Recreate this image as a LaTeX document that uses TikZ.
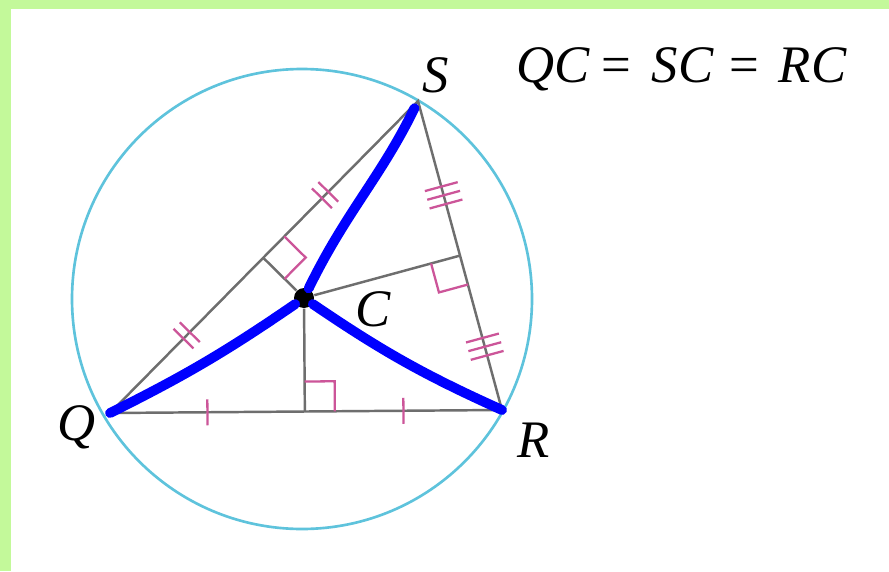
\documentclass[tikz,border=0pt]{standalone}
\usepackage{fontspec}
\setmainfont{Liberation Serif}
\usetikzlibrary{calc,positioning}
\definecolor{FRAME}{HTML}{C3F99A}
\definecolor{RING}{HTML}{5EC3DC}
\definecolor{SIDE}{HTML}{6E6E6E}
\definecolor{MARK}{HTML}{CC5599}
\tikzset{
    Side/.style={draw=SIDE,line width=0.7pt},
    Mark/.style={draw=MARK,line width=0.65pt},
    Path/.style={draw=blue,line width=2.8pt,line cap=round},
    Lbl/.style={font=\fontsize{15}{17}\selectfont\itshape,inner sep=0pt},
    Dot/.style={circle,fill=black,inner sep=0pt,minimum size=0.2cm},
}
\def\Ticks[n #1 pos #2 len #3]#4#5{
    \foreach \k [evaluate=\k as \dd using (\k-(#1+1)/2)*0.09] in {1,...,#1}{
        \coordinate (tk) at ($($(#4)!#2!(#5)$)!\dd cm!(#5)$);
        \draw[Mark] ($(tk)!#3!90:(#5)$) -- ($(tk)!#3!-90:(#5)$);
    }
}
\def\RA#1#2#3{ % foot, along side, toward C
    \draw[Mark] ($(#1)!0.3cm!(#2)$)
        -- ($($(#1)!0.3cm!(#2)$)+($(#1)!0.3cm!(#3)$)-(#1)$)
        -- ($(#1)!0.3cm!(#3)$);
}
\begin{document}
\begin{tikzpicture}
    \useasboundingbox (0,0) rectangle (8.89,5.71);
    \fill[FRAME] (0,0) rectangle (8.89,5.71);
    \fill[white] (0.11,0) rectangle (8.89,5.62);

    \coordinate (Q) at (1.10,1.58);
    \coordinate (R) at (5.02,1.61);
    \coordinate (S) at (4.18,4.70);
    \node[Dot] (C) at (3.04,2.73) {};
    \coordinate (FQR) at ($(Q)!(C)!(R)$);
    \coordinate (FQS) at ($(Q)!(C)!(S)$);
    \coordinate (FRS) at ($(R)!(C)!(S)$);

    \draw[RING,line width=0.75pt] (3.02,2.72) circle (2.30);
    \draw[Side] (Q) -- (R) -- (S) -- cycle;
    \foreach \f in {FQR,FQS,FRS}{\draw[Side] (C) -- (\f);}

    \RA{FQR}{R}{C}
    \RA{FQS}{S}{C}
    \RA{FRS}{R}{C}
    \Ticks[n 1 pos 0.5 len 0.13cm]{Q}{FQR}
    \Ticks[n 1 pos 0.5 len 0.13cm]{FQR}{R}
    \Ticks[n 2 pos 0.5 len 0.14cm]{Q}{FQS}
    \Ticks[n 2 pos 0.4 len 0.14cm]{FQS}{S}
    \Ticks[n 3 pos 0.39 len 0.17cm]{FRS}{S}
    \Ticks[n 3 pos 0.59 len 0.17cm]{FRS}{R}

    \draw[Path,shorten >=0.08cm] (C) to[out=64,in=-116] (S);
    \draw[Path] (C) to[bend left=4] (Q);
    \draw[Path] (C) to[bend right=5] (R);

    \node[Lbl] (LS) at (4.36,4.96) {S};
    \node[Lbl] (LQ) at (0.77,1.44) {Q};
    \node[Lbl] (LR) at (5.34,1.31) {R};
    \node[Lbl] (LC) at (3.73,2.62) {C};
    \node[Lbl,anchor=base west] (EQN) at (5.16,4.88)
        {QC\hspace{1.2mm}\upshape=\hspace{2mm}\itshape SC\hspace{1.6mm}\upshape=\hspace{2mm}\itshape RC};
\end{tikzpicture}
\end{document}
